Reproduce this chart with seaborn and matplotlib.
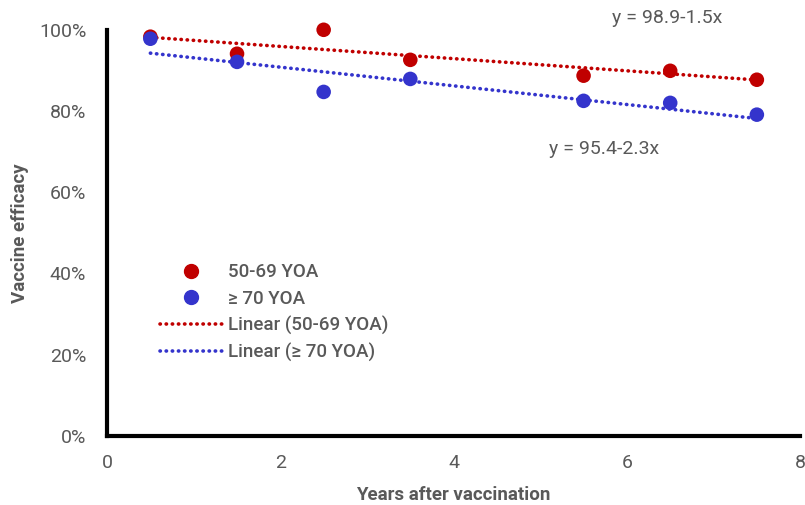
import numpy as np
import pandas as pd
import matplotlib
matplotlib.use("Agg")
import matplotlib.pyplot as plt
import seaborn as sns
from matplotlib.lines import Line2D

# data
years = [0.5, 1.5, 2.5, 3.5, 5.5, 6.5, 7.5]
eff_50_69 = [98.3, 94.1, 100.0, 92.6, 88.7, 89.9, 87.7]
eff_70 = [97.8, 92.1, 84.7, 87.9, 82.5, 82.0, 79.1]
fit_50_69 = (98.9, -1.5)
fit_70 = (95.4, -2.3)
grp_labels = ["50-69 YOA", "\u2265 70 YOA"]

red = "#C00000"
blue = "#3434CC"
grey = "#595959"
dots = (0, (0.1, 1.6))

sns.set_theme(style="white")
plt.rcParams["font.family"] = ["Roboto", "DejaVu Sans"]

df = pd.DataFrame({
    "years": years * 2,
    "eff": np.array(eff_50_69 + eff_70) / 100,
    "group": [grp_labels[0]] * len(years) + [grp_labels[1]] * len(years),
})

xs = np.array([years[0], years[-1]])
fits = pd.DataFrame({
    "years": np.concatenate([xs, xs]),
    "eff": np.concatenate([(fit_50_69[0] + fit_50_69[1] * xs) / 100,
                           (fit_70[0] + fit_70[1] * xs) / 100]),
    "group": ["Linear (" + grp_labels[0] + ")"] * 2 + ["Linear (" + grp_labels[1] + ")"] * 2,
})

fig = plt.figure(figsize=(8.05, 5.05), dpi=100)
ax = fig.add_axes([0.133, 0.137, 0.861, 0.804])

sns.lineplot(data=fits, x="years", y="eff", hue="group", palette=[red, blue],
             linestyle=dots, dash_capstyle="round", linewidth=2.6, ax=ax, legend=False)
sns.scatterplot(data=df, x="years", y="eff", hue="group", palette=[red, blue],
                s=110, edgecolor="none", ax=ax, legend=False, clip_on=False, zorder=3)

ax.set_xlim(0, 8)
ax.set_ylim(0, 1.0)
ax.set_xticks([0, 2, 4, 6, 8])
ax.set_yticks(np.arange(0, 1.01, 0.2))
ax.set_yticklabels([f"{int(round(v * 100))}%" for v in np.arange(0, 1.01, 0.2)])
ax.tick_params(axis="both", labelsize=14, colors=grey, length=0)
ax.tick_params(axis="x", pad=13)
ax.tick_params(axis="y", pad=15)
ax.set_xlabel("Years after vaccination", fontsize=13.5, color=grey, fontweight="bold", labelpad=10)
ax.set_ylabel("Vaccine efficacy", fontsize=13.5, color=grey, fontweight="bold", labelpad=7)

for side in ["top", "right"]:
    ax.spines[side].set_visible(False)
for side in ["left", "bottom"]:
    ax.spines[side].set_color("black")
    ax.spines[side].set_linewidth(3)

ax.text(0.808, 1.03, "y = 98.9-1.5x", transform=ax.transAxes, fontsize=14, color=grey,
        ha="center", va="center")
ax.text(0.717, 0.707, "y = 95.4-2.3x", transform=ax.transAxes, fontsize=14, color=grey,
        ha="center", va="center")

handles = [
    Line2D([], [], marker="o", color=red, linestyle="none", markersize=10),
    Line2D([], [], marker="o", color=blue, linestyle="none", markersize=10),
    Line2D([], [], color=red, linestyle=dots, dash_capstyle="round", linewidth=2.6),
    Line2D([], [], color=blue, linestyle=dots, dash_capstyle="round", linewidth=2.6),
]
labels = grp_labels + ["Linear (" + grp_labels[0] + ")", "Linear (" + grp_labels[1] + ")"]
leg = ax.legend(handles, labels, loc="upper left", bbox_to_anchor=(0.076, 0.425),
                frameon=False, fontsize=13.5, handlelength=3.3, handletextpad=0.32,
                labelspacing=0.44, borderpad=0, borderaxespad=0)
for t in leg.get_texts():
    t.set_color(grey)
    t.set_fontweight("medium")

fig.savefig("out.png", dpi=100)
